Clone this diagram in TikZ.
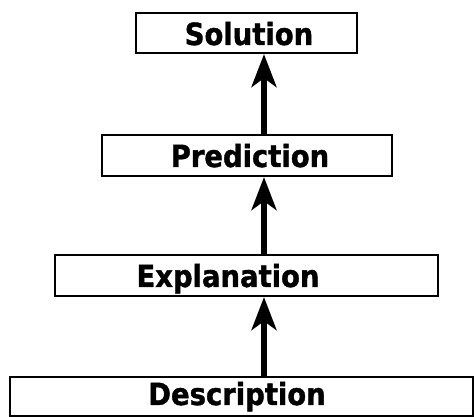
\documentclass[tikz,border=0pt]{standalone}
\usepackage{fontspec}
\newfontfamily\stagefont[FakeBold=1.2]{DejaVu Sans Condensed Bold}
\usetikzlibrary{arrows.meta}
\begin{document}
\begin{tikzpicture}[x=1pt,y=-1pt,
  stagebox/.style={draw=black, line width=2.2pt, fill=white, rectangle, inner sep=0pt},
  stagetext/.style={anchor=base, inner sep=0pt, font=\stagefont\fontsize{30.5}{33}\selectfont},
  uparrow/.style={line width=5.5pt, -{Stealth[length=33pt,width=25pt,inset=9pt]}}]
  \useasboundingbox (0,0) rectangle (475,417);
  % boxes, from top to bottom
  \node[stagebox, minimum width=221pt, minimum height=40pt] (sol) at (246.5,33) {};
  \node[stagebox, minimum width=290pt, minimum height=41pt] (pre) at (247,155.5) {};
  \node[stagebox, minimum width=383pt, minimum height=41pt] (exp) at (246.5,275.5) {};
  \node[stagebox, minimum width=463pt, minimum height=39pt] (des) at (241.5,396.5) {};
  % labels
  \node[stagetext] (tsol) at (249,45) {Solution};
  \node[stagetext] (tpre) at (250,167) {Prediction};
  \node[stagetext] (texp) at (228,287) {Explanation};
  \node[stagetext] (tdes) at (237,405) {Description};
  % arrows run along a common vertical line
  \coordinate (ax) at (264,0);
  \draw[uparrow] (des.north -| ax) -- (exp.south -| ax);
  \draw[uparrow] (exp.north -| ax) -- (pre.south -| ax);
  \draw[uparrow] (pre.north -| ax) -- (sol.south -| ax);
\end{tikzpicture}
\end{document}
